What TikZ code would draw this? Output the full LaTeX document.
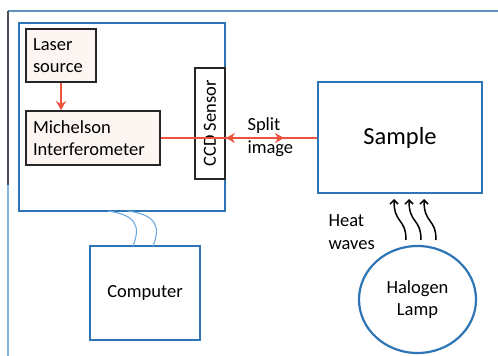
\documentclass[tikz,border=0pt]{standalone}
\usepackage{fontspec}
\setmainfont{Carlito}
\usetikzlibrary{arrows.meta,calc,shapes.geometric}
\definecolor{bluec}{RGB}{46,117,182}
\definecolor{redc}{RGB}{236,82,62}
\definecolor{cablec}{RGB}{110,170,225}
\definecolor{framedark}{RGB}{70,80,92}
\definecolor{framelight}{RGB}{130,180,220}
\definecolor{frametop}{RGB}{95,145,190}
\definecolor{tintc}{RGB}{253,245,241}
\begin{document}
\begin{tikzpicture}[x=1pt,y=-1pt,
  txt/.style={font=\fontsize{18.5}{22.5}\selectfont},
  bluebox/.style={draw=bluec,line width=2.2pt,fill=white,inner sep=0pt},
  blackbox/.style={draw=black!85,line width=1.8pt,fill=tintc,inner sep=0pt,txt},
  redarrow/.style={draw=redc,line width=2.6pt},
  redtip/.tip={Stealth[length=9pt,width=10pt]},
  cable/.style={draw=cablec,line width=1.1pt},
  heat/.style={draw=black,line width=1.5pt,-{Straight Barb[length=4pt,width=8pt]}}]
\useasboundingbox (0,0) rectangle (498,356);
% outer frame (top and left only)
\coordinate (ftl) at (8,11);
\coordinate (ftr) at (498,11);
\coordinate (fmid) at (8,185);
\coordinate (fbl) at (8,356);
\draw[frametop,line width=1.4pt] (ftl) -- (ftr);
\draw[framedark,line width=1.4pt] (ftl) -- (fmid);
\draw[framelight,line width=1.4pt] (fmid) -- (fbl);
% main box
\node[bluebox,minimum width=206,minimum height=188] (main) at (122,117) {};
% laser source
\node[blackbox,minimum width=70,minimum height=53,text width=56,align=left] (laser) at (61,55.5) {Laser\\source};
% Michelson
\node[blackbox,minimum width=134,minimum height=54,text width=120,align=left] (mich) at (93,138) {Michelson\\Interferometer};
% CCD sensor
\node[blackbox,fill=white,minimum width=30,minimum height=111] (ccd) at (210,123.5) {};
\node[txt,rotate=90] (ccdtxt) at (ccd.center) {CCD Sensor};
% sample
\node[bluebox,minimum width=164,minimum height=111,font=\fontsize{24.5}{29}\selectfont] (sample) at (400,137.5) {Sample};
% computer
\node[bluebox,minimum width=110,minimum height=94,txt] (comp) at (145,293) {Computer};
% halogen lamp
\node[draw=bluec,line width=2.2pt,ellipse,minimum width=117,minimum height=107,inner sep=0pt,txt,align=center] (lamp) at (417.5,299.5) {Halogen\\Lamp};
% laser -> michelson
\draw[redarrow,-redtip] (laser.south) -- (laser.south |- mich.north);
% michelson -- sample line
\draw[redarrow] (mich.east) -- (mich.east -| sample.west);
\coordinate (spr) at (284,138);
\draw[redarrow,redtip-redtip] (ccd.east |- mich.east) -- (spr);
\node[txt,anchor=west,align=left] (split) at (244,137) {Split\\image};
% cables
\coordinate (c1a) at (108,211);
\coordinate (c1b) at (133,246);
\coordinate (c2a) at (128,211);
\coordinate (c2b) at (153,246);
\draw[cable] (c1a) .. controls (136,215) and (141,226) .. (c1b);
\draw[cable] (c2a) .. controls (156,215) and (161,226) .. (c2b);
% heat waves
\node[txt,anchor=west,align=left] (heattxt) at (325,232) {Heat\\waves};
\coordinate (h1s) at (406,240);
\coordinate (h1e) at (394,199);
\coordinate (h2s) at (421,240);
\coordinate (h2e) at (409,199);
\coordinate (h3s) at (436,240);
\coordinate (h3e) at (424,199);
\draw[heat] (h1s) .. controls (406,218) and (394,224) .. (h1e);
\draw[heat] (h2s) .. controls (421,218) and (409,224) .. (h2e);
\draw[heat] (h3s) .. controls (436,218) and (424,224) .. (h3e);
\end{tikzpicture}
\end{document}
